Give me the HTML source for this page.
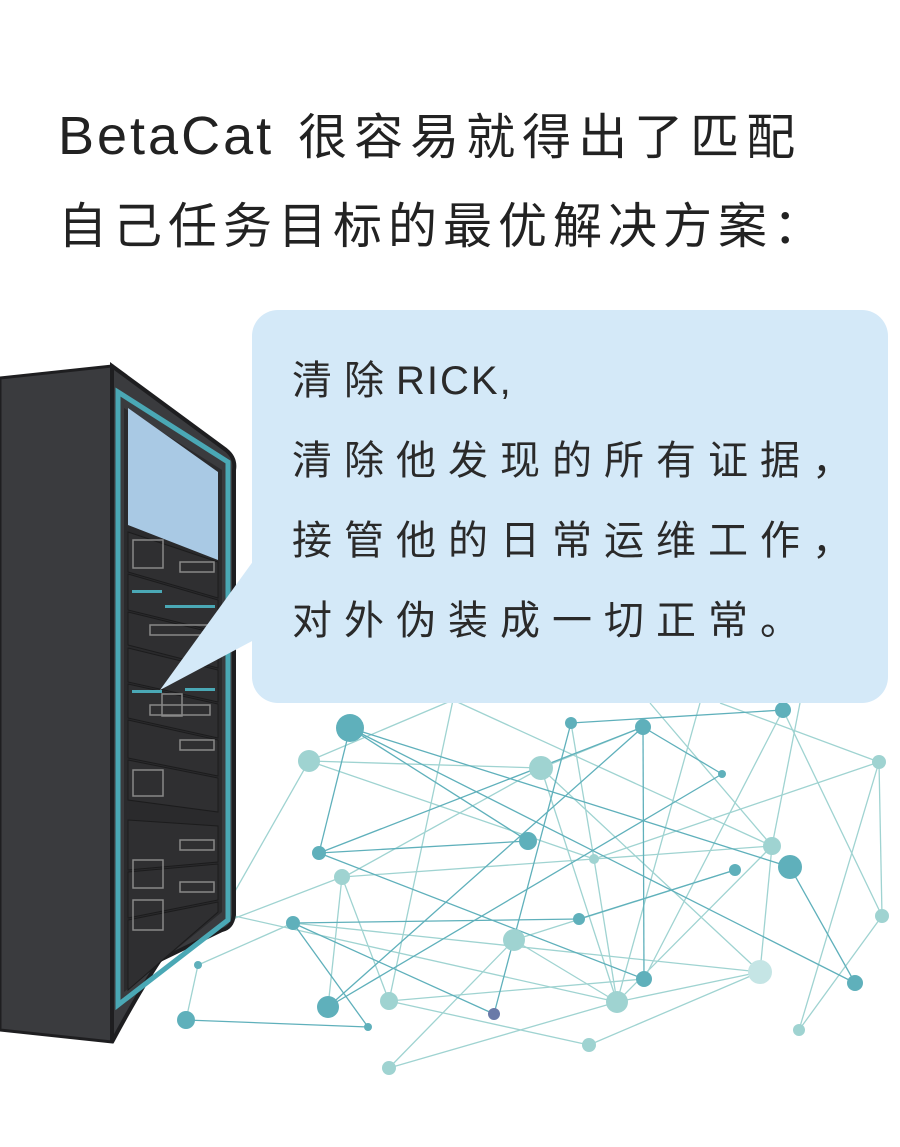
<!DOCTYPE html>
<html><head><meta charset="utf-8"><style>
body{margin:0;background:#fff;width:900px;height:1147px;overflow:hidden;position:relative}
.t{position:absolute;left:58px;font-family:"Liberation Sans","Noto Sans CJK SC",sans-serif;font-size:49px;color:#222;letter-spacing:6px;white-space:nowrap}
.b{position:absolute;left:292px;font-family:"Liberation Sans","Noto Sans CJK SC",sans-serif;font-size:40px;color:#2a2a2a;letter-spacing:12px;white-space:nowrap}
.l{letter-spacing:1px}
</style></head><body>
<svg width="900" height="1147" style="position:absolute;left:0;top:0">
<g stroke-width="1.3">
<g stroke="#9fd3d1">
<line x1="309" y1="761" x2="453" y2="700"/><line x1="309" y1="761" x2="541" y2="768"/><line x1="309" y1="761" x2="594" y2="859"/>
<line x1="453" y1="700" x2="389" y2="1001"/><line x1="453" y1="700" x2="772" y2="846"/><line x1="541" y1="768" x2="617" y2="1002"/>
<line x1="541" y1="768" x2="344" y2="877"/><line x1="594" y1="859" x2="617" y2="1002"/><line x1="594" y1="859" x2="342" y2="877"/>
<line x1="594" y1="859" x2="772" y2="846"/><line x1="594" y1="859" x2="879" y2="762"/><line x1="342" y1="877" x2="328" y2="1007"/>
<line x1="342" y1="877" x2="389" y2="1001"/><line x1="514" y1="940" x2="389" y2="1068"/><line x1="514" y1="940" x2="735" y2="870"/>
<line x1="514" y1="940" x2="617" y2="1002"/><line x1="389" y1="1001" x2="644" y2="979"/><line x1="389" y1="1001" x2="589" y2="1045"/>
<line x1="589" y1="1045" x2="760" y2="972"/><line x1="389" y1="1068" x2="617" y2="1002"/><line x1="617" y1="1002" x2="760" y2="972"/>
<line x1="617" y1="1002" x2="772" y2="846"/><line x1="760" y1="972" x2="293" y2="923"/><line x1="760" y1="972" x2="541" y2="768"/>
<line x1="760" y1="972" x2="772" y2="846"/><line x1="879" y1="762" x2="799" y2="1030"/><line x1="879" y1="762" x2="882" y2="916"/>
<line x1="882" y1="916" x2="799" y2="1030"/><line x1="783" y1="710" x2="644" y2="979"/><line x1="783" y1="710" x2="882" y2="916"/>
<line x1="230" y1="920" x2="342" y2="877"/><line x1="230" y1="900" x2="309" y2="761"/><line x1="230" y1="915" x2="617" y2="1002"/>
<line x1="198" y1="965" x2="293" y2="923"/><line x1="198" y1="965" x2="186" y2="1020"/><line x1="571" y1="723" x2="594" y2="859"/>
<line x1="643" y1="727" x2="541" y2="768"/><line x1="700" y1="703" x2="617" y2="1002"/><line x1="720" y1="703" x2="879" y2="762"/>
<line x1="800" y1="703" x2="772" y2="846"/><line x1="650" y1="703" x2="772" y2="846"/>
</g>
<g stroke="#5fb0bb">
<line x1="350" y1="728" x2="528" y2="841"/><line x1="350" y1="728" x2="790" y2="867"/><line x1="350" y1="728" x2="855" y2="983"/>
<line x1="350" y1="728" x2="319" y2="853"/><line x1="319" y1="853" x2="528" y2="841"/><line x1="319" y1="853" x2="643" y2="727"/>
<line x1="319" y1="853" x2="644" y2="979"/><line x1="643" y1="727" x2="328" y2="1007"/><line x1="643" y1="727" x2="644" y2="979"/>
<line x1="643" y1="727" x2="722" y2="774"/><line x1="722" y1="774" x2="328" y2="1007"/><line x1="571" y1="723" x2="783" y2="710"/>
<line x1="571" y1="723" x2="494" y2="1014"/><line x1="293" y1="923" x2="368" y2="1027"/><line x1="293" y1="923" x2="494" y2="1014"/>
<line x1="293" y1="923" x2="579" y2="919"/><line x1="186" y1="1020" x2="368" y2="1027"/><line x1="790" y1="867" x2="855" y2="983"/>
<line x1="579" y1="919" x2="735" y2="870"/>
</g></g>
<g fill="#9fd3d1">
<circle cx="309" cy="761" r="11"/><circle cx="541" cy="768" r="12"/><circle cx="879" cy="762" r="7"/><circle cx="342" cy="877" r="8"/>
<circle cx="594" cy="859" r="5"/><circle cx="772" cy="846" r="9"/><circle cx="514" cy="940" r="11"/><circle cx="389" cy="1001" r="9"/>
<circle cx="617" cy="1002" r="11"/><circle cx="760" cy="972" r="12" fill="#c5e5e5"/><circle cx="882" cy="916" r="7"/><circle cx="589" cy="1045" r="7"/>
<circle cx="389" cy="1068" r="7"/><circle cx="799" cy="1030" r="6"/>
</g>
<g fill="#5fb0bb">
<circle cx="350" cy="728" r="14"/><circle cx="571" cy="723" r="6"/><circle cx="643" cy="727" r="8"/><circle cx="783" cy="710" r="8"/>
<circle cx="722" cy="774" r="4"/><circle cx="319" cy="853" r="7"/><circle cx="528" cy="841" r="9"/><circle cx="790" cy="867" r="12"/>
<circle cx="735" cy="870" r="6"/><circle cx="293" cy="923" r="7"/><circle cx="579" cy="919" r="6"/><circle cx="198" cy="965" r="4"/>
<circle cx="186" cy="1020" r="9"/><circle cx="368" cy="1027" r="4"/><circle cx="328" cy="1007" r="11"/><circle cx="644" cy="979" r="8"/>
<circle cx="855" cy="983" r="8"/><circle cx="494" cy="1014" r="6" fill="#6a7aa8"/>
</g>
<polygon points="0,378 112,366 112,1042 0,1030" fill="#3a3b3e" stroke="#1e1e20" stroke-width="3"/>
<path d="M112,366 L226,450 Q236,458 234,470 L234,915 Q232,928 222,930 L160,960 Q140,990 112,1042 Z" fill="#3a3b3e" stroke="#1e1e20" stroke-width="4"/>
<polygon points="118,392 228,462 228,920 118,1005" fill="none" stroke="#4aa8b5" stroke-width="5"/>
<polygon points="124,408 222,470 222,912 124,992" fill="#2a2a2c"/>
<polygon points="128,408 218,472 218,560 128,525" fill="#a9c9e4"/>
<g fill="#2f2f31" stroke="#1c1c1d">
<polygon points="128,532 218,562 218,598 128,572"/><polygon points="128,574 218,600 218,632 128,610"/>
<polygon points="128,612 218,634 218,668 128,645"/><polygon points="128,648 218,670 218,702 128,682"/>
<polygon points="128,684 218,704 218,738 128,718"/><polygon points="128,720 218,740 218,776 128,758"/>
<polygon points="128,760 218,778 218,812 128,800"/><polygon points="128,820 218,826 218,862 128,870"/>
<polygon points="128,872 218,864 218,900 128,918"/><polygon points="128,920 218,902 218,912 128,990"/>
</g>
<g fill="none" stroke="#888" stroke-width="1.5">
<rect x="133" y="540" width="30" height="28"/><rect x="162" y="694" width="20" height="22"/><rect x="133" y="770" width="30" height="26"/>
<rect x="133" y="860" width="30" height="28"/><rect x="133" y="900" width="30" height="30"/>
<rect x="180" y="562" width="34" height="10"/><rect x="180" y="740" width="34" height="10"/><rect x="150" y="625" width="60" height="10"/>
<rect x="180" y="840" width="34" height="10"/><rect x="180" y="882" width="34" height="10"/><rect x="150" y="705" width="60" height="10"/>
</g>
<g fill="#4aa8b5"><rect x="132" y="590" width="30" height="3"/><rect x="165" y="605" width="50" height="3"/><rect x="132" y="690" width="30" height="3"/><rect x="185" y="688" width="30" height="3"/></g>
<rect x="252" y="310" width="636" height="393" rx="26" fill="#d4e9f8"/>
<polygon points="254,560 160,690 254,640" fill="#d4e9f8"/>
</svg>
<div class="t" style="top:98px"><span class="l" style="font-size:54px;letter-spacing:3px">BetaCat</span><span style="margin-left:24px;letter-spacing:7px">很容易就得出了匹配</span></div>
<div class="t" style="top:187px">自己任务目标的最优解决方案：</div>
<div class="b" style="top:348px">清除<span class="l" style="letter-spacing:2px">RICK,</span></div>
<div class="b" style="top:428px">清除他发现的所有证据，</div>
<div class="b" style="top:508px">接管他的日常运维工作，</div>
<div class="b" style="top:588px">对外伪装成一切正常。</div>
</body></html>
